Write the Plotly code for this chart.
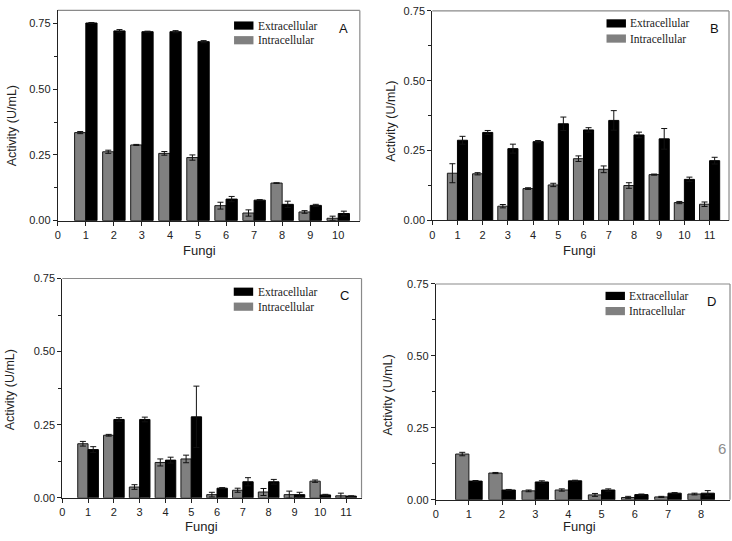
import plotly.graph_objects as go

# ---------------- data ----------------
A_fungi = list(range(1, 11))
A_intra = [0.335, 0.262, 0.288, 0.256, 0.240, 0.057, 0.029, 0.143, 0.033, 0.009]
A_intra_err = [0.004, 0.006, 0.002, 0.007, 0.010, 0.013, 0.012, 0.001, 0.005, 0.008]
A_extra = [0.752, 0.722, 0.719, 0.719, 0.681, 0.082, 0.078, 0.062, 0.058, 0.027]
A_extra_err = [0.002, 0.005, 0.002, 0.004, 0.004, 0.010, 0.002, 0.012, 0.004, 0.009]

B_fungi = list(range(1, 12))
B_intra = [0.169, 0.167, 0.051, 0.114, 0.127, 0.221, 0.183, 0.125, 0.164, 0.064, 0.058]
B_intra_err = [0.034, 0.004, 0.006, 0.003, 0.006, 0.010, 0.012, 0.010, 0.002, 0.004, 0.008]
B_extra = [0.287, 0.315, 0.257, 0.282, 0.346, 0.324, 0.358, 0.306, 0.292, 0.147, 0.214]
B_extra_err = [0.014, 0.007, 0.016, 0.004, 0.024, 0.008, 0.035, 0.010, 0.037, 0.008, 0.012]

C_fungi = list(range(1, 12))
C_intra = [0.185, 0.214, 0.037, 0.121, 0.133, 0.011, 0.026, 0.020, 0.011, 0.057, 0.007]
C_intra_err = [0.008, 0.003, 0.008, 0.012, 0.013, 0.008, 0.007, 0.012, 0.012, 0.004, 0.009]
C_extra = [0.165, 0.268, 0.268, 0.129, 0.277, 0.033, 0.055, 0.055, 0.011, 0.010, 0.006]
C_extra_err = [0.010, 0.006, 0.008, 0.010, 0.105, 0.002, 0.014, 0.008, 0.008, 0.002, 0.001]

D_fungi = list(range(1, 9))
D_intra = [0.159, 0.093, 0.031, 0.034, 0.017, 0.008, 0.010, 0.020]
D_intra_err = [0.006, 0.002, 0.003, 0.004, 0.005, 0.004, 0.002, 0.003]
D_extra = [0.065, 0.034, 0.062, 0.066, 0.034, 0.018, 0.023, 0.023]
D_extra_err = [0.002, 0.002, 0.004, 0.002, 0.004, 0.002, 0.002, 0.009]

y_ticks = [0, 0.25, 0.5, 0.75]
panel_labels = ["A", "B", "C", "D"]
series_names = ["Extracellular", "Intracellular"]
x_title = "Fungi"
y_title = "Activity (U/mL)"

# ---------------- layout helpers ----------------
W, H = 732, 541
def px_x(p):
    return p / W
def px_y(p):
    return 1 - p / H

# box = (left, right, top, bottom) in pixels
panels = [
    dict(data=(A_fungi, A_intra, A_intra_err, A_extra, A_extra_err), box=(55, 358.3, 4.5, 219.5), xmax=10.77, ymax=0.80,
         leg=(232, 20, 35), lab=(341.7, 22.7), xt=(197, 250), yt=(9, 122)),
    dict(data=(B_fungi, B_intra, B_intra_err, B_extra, B_extra_err), box=(431, 729, 5, 219.3), xmax=11.77, ymax=0.75,
         leg=(606, 17.8, 33.3), lab=(714, 22.7), xt=(579, 250), yt=(390, 118)),
    dict(data=(C_fungi, C_intra, C_intra_err, C_extra, C_extra_err), box=(59.5, 360, 278.7, 503), xmax=11.6, ymax=0.75,
         leg=(231.7, 292.2, 307.5), lab=(343, 295.7), xt=(199, 532), yt=(7, 392)),
    dict(data=(D_fungi, D_intra, D_intra_err, D_extra, D_extra_err), box=(434.5, 730, 284.3, 505), xmax=8.87, ymax=0.75,
         leg=(605, 296.5, 312), lab=(711, 302), xt=(578.5, 532.5), yt=(387, 398)),
]

GREY = "#808080"
SANS = "Liberation Sans, Arial, sans-serif"
SERIF = "Liberation Serif, Times New Roman, serif"

fig = go.Figure()
layout = dict(
    width=W, height=H, margin=dict(l=0, r=0, t=0, b=0),
    paper_bgcolor="white", plot_bgcolor="white", showlegend=False,
    barmode="group", bargap=0.2, bargroupgap=0,
    font=dict(family=SANS, size=11, color="#222"),
    annotations=[], shapes=[],
)

def note(text, x, y, size, family=SANS, color="#222", xanchor="center", angle=0):
    return dict(text=text, x=px_x(x), y=px_y(y), xref="paper", yref="paper",
                xanchor=xanchor, yanchor="middle", textangle=angle, showarrow=False,
                font=dict(family=family, size=size, color=color))

for i, p in enumerate(panels):
    n = "" if i == 0 else str(i + 1)
    xa, ya = "x" + n, "y" + n
    fungi, intra, intra_err, extra, extra_err = p["data"]
    fig.add_trace(go.Bar(
        x=fungi, y=intra, name="Intracellular", xaxis=xa, yaxis=ya,
        marker=dict(color=GREY, line=dict(color="#1a1a1a", width=1)),
        error_y=dict(type="data", array=intra_err, color="#111", thickness=1, width=3),
    ))
    fig.add_trace(go.Bar(
        x=fungi, y=extra, name="Extracellular", xaxis=xa, yaxis=ya,
        marker=dict(color="black", line=dict(color="black", width=1)),
        error_y=dict(type="data", array=extra_err, color="#111", thickness=1, width=3),
    ))
    l, r, t, b = p["box"]
    layout["xaxis" + n] = dict(
        domain=[px_x(l), px_x(r)], range=[0, p["xmax"]], anchor=ya,
        tickmode="array", tickvals=list(range(0, len(fungi) + 1)),
        ticks="outside", ticklen=4, tickcolor="#222", showgrid=False, zeroline=False,
        showline=True, linecolor="#222", linewidth=1,
        tickfont=dict(family=SANS, size=11, color="#222"),
    )
    layout["yaxis" + n] = dict(
        domain=[px_y(b), px_y(t)], range=[0, p["ymax"]], anchor=xa,
        tickmode="array", tickvals=y_ticks, tickformat=".2f",
        ticks="outside", ticklen=4, tickcolor="#222", showgrid=False, zeroline=False,
        showline=True, linecolor="#222", linewidth=1,
        minor=dict(dtick=0.125, tick0=0, ticks="outside", ticklen=3, tickcolor="#222", showgrid=False),
        tickfont=dict(family=SANS, size=11, color="#222"),
    )
    # axis titles
    tx, ty = p["xt"]
    layout["annotations"].append(note(x_title, tx, ty, 13))
    tx, ty = p["yt"]
    layout["annotations"].append(note(y_title, tx, ty, 12.5, angle=-90))
    # grey top/right frame
    layout["shapes"].append(dict(type="line", xref=xa + " domain", yref=ya + " domain",
                                 x0=0, x1=1, y0=1, y1=1, line=dict(color="#8a8a8a", width=1.2), layer="below"))
    layout["shapes"].append(dict(type="line", xref=xa + " domain", yref=ya + " domain",
                                 x0=1, x1=1, y0=0, y1=1, line=dict(color="#8a8a8a", width=1.2), layer="below"))
    # legend (key swatches + text)
    lx, r1, r2 = p["leg"]
    for name, col, ry in ((series_names[0], "black", r1), (series_names[1], GREY, r2)):
        layout["shapes"].append(dict(type="rect", xref="paper", yref="paper",
                                     x0=px_x(lx), x1=px_x(lx + 19.5), y0=px_y(ry + 4.2), y1=px_y(ry - 4.2),
                                     fillcolor=col, line=dict(width=0)))
        layout["annotations"].append(note(name, lx + 22, ry, 11.5, family=SERIF, xanchor="left"))
    ax, ay = p["lab"]
    layout["annotations"].append(note(panel_labels[i], ax, ay, 13, color="#111"))

layout["annotations"].append(note("6", 721.7, 453, 15, color="#8c8c8c"))

fig.update_layout(**layout)
fig.write_html("out.html", config={"displayModeBar": False},
               post_script="document.body.style.margin='0';document.body.style.overflow='hidden';")
